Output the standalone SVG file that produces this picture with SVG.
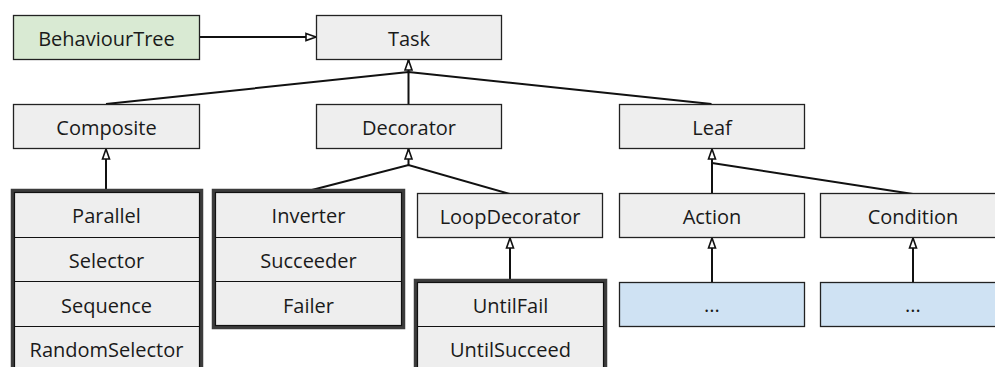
<svg xmlns="http://www.w3.org/2000/svg" width="995" height="367" viewBox="0 0 995 367">
  <style>
    .box { fill: #eeeeee; stroke: #222222; stroke-width: 1.3; }
    .green { fill: #d9ead3; }
    .blue { fill: #cfe2f3; }
    .frame { fill: none; stroke: #3c3c3c; stroke-width: 3.5; }
    .inner { fill: none; stroke: #111111; stroke-width: 1.2; }
    .sep { stroke: #111111; stroke-width: 1.2; }
    .lbl { font-family: "Open Sans", "Liberation Sans", sans-serif; font-size: 20px; fill: #1a1a1a; text-anchor: middle; }
    .edge { fill: none; stroke: #111111; stroke-width: 2; }
  </style>
  <defs>
    <marker id="tri" viewBox="0 0 12 10" refX="11" refY="5" markerWidth="12" markerHeight="10" markerUnits="userSpaceOnUse" orient="auto">
      <path d="M1,1.5 L11,5 L1,8.5 Z" fill="#ffffff" stroke="#111111" stroke-width="1.6"/>
    </marker>
  </defs>

  <!-- connectors -->
  <g id="connectors">
    <line class="edge" x1="200" y1="37" x2="316" y2="37" marker-end="url(#tri)"/>
    <!-- Task generalization tree -->
    <line class="edge" x1="408.5" y1="72" x2="408.5" y2="60" marker-end="url(#tri)"/>
    <polyline class="edge" points="106,104 408.5,72 711.5,104"/>
    <line class="edge" x1="408.5" y1="72" x2="408.5" y2="104"/>
    <!-- Composite -->
    <line class="edge" x1="106" y1="190" x2="106" y2="149" marker-end="url(#tri)"/>
    <!-- Decorator -->
    <line class="edge" x1="408.5" y1="165" x2="408.5" y2="149" marker-end="url(#tri)"/>
    <polyline class="edge" points="308,191 408.5,165 510,194"/>
    <!-- LoopDecorator -->
    <line class="edge" x1="510" y1="280" x2="510" y2="238" marker-end="url(#tri)"/>
    <!-- Leaf -->
    <line class="edge" x1="712" y1="193" x2="712" y2="149" marker-end="url(#tri)"/>
    <line class="edge" x1="712" y1="163" x2="913" y2="194"/>
    <!-- Action / Condition -->
    <line class="edge" x1="712" y1="282" x2="712" y2="238" marker-end="url(#tri)"/>
    <line class="edge" x1="913" y1="282" x2="913" y2="238" marker-end="url(#tri)"/>
  </g>

  <g id="behaviourtree">
    <rect class="box green" x="13.5" y="15.5" width="186" height="44"/>
    <text class="lbl" x="106.5" y="46">BehaviourTree</text>
  </g>
  <g id="task">
    <rect class="box" x="316.5" y="15.5" width="185" height="44"/>
    <text class="lbl" x="409" y="46">Task</text>
  </g>
  <g id="composite">
    <rect class="box" x="13.5" y="104.5" width="186" height="44"/>
    <text class="lbl" x="106.5" y="135">Composite</text>
  </g>
  <g id="decorator">
    <rect class="box" x="316.5" y="104.5" width="185" height="44"/>
    <text class="lbl" x="409" y="135">Decorator</text>
  </g>
  <g id="leaf">
    <rect class="box" x="619.5" y="104.5" width="185" height="44"/>
    <text class="lbl" x="712" y="135">Leaf</text>
  </g>

  <!-- composite subclasses -->
  <g id="composites">
    <rect x="13" y="191" width="188" height="190" fill="#eeeeee"/>
    <line class="sep" x1="14" y1="237.5" x2="200" y2="237.5"/>
    <line class="sep" x1="14" y1="281.5" x2="200" y2="281.5"/>
    <line class="sep" x1="14" y1="326.5" x2="200" y2="326.5"/>
    <rect class="frame" x="12.5" y="190.5" width="189" height="190"/>
    <rect class="inner" x="14.5" y="192.5" width="185" height="190"/>
    <text class="lbl" x="106.5" y="222.5">Parallel</text>
    <text class="lbl" x="106.5" y="268">Selector</text>
    <text class="lbl" x="106.5" y="312.5">Sequence</text>
    <text class="lbl" x="106.5" y="357">RandomSelector</text>
  </g>

  <!-- decorator subclasses -->
  <g id="decorators">
    <rect x="214" y="191" width="189" height="136" fill="#eeeeee"/>
    <line class="sep" x1="215" y1="237.5" x2="402" y2="237.5"/>
    <line class="sep" x1="215" y1="281.5" x2="402" y2="281.5"/>
    <rect class="frame" x="213.5" y="190.5" width="190" height="137"/>
    <rect class="inner" x="215.5" y="192.5" width="186" height="133"/>
    <text class="lbl" x="308.5" y="222.5">Inverter</text>
    <text class="lbl" x="308.5" y="268">Succeeder</text>
    <text class="lbl" x="308.5" y="312.5">Failer</text>
  </g>

  <g id="loopdecorator">
    <rect class="box" x="417.5" y="193.5" width="185" height="44"/>
    <text class="lbl" x="510" y="224">LoopDecorator</text>
  </g>

  <g id="loops">
    <rect x="416" y="281" width="189" height="100" fill="#eeeeee"/>
    <line class="sep" x1="417" y1="326.5" x2="604" y2="326.5"/>
    <rect class="frame" x="415.5" y="280.5" width="190" height="100"/>
    <rect class="inner" x="417.5" y="282.5" width="186" height="100"/>
    <text class="lbl" x="510.5" y="312.5">UntilFail</text>
    <text class="lbl" x="510.5" y="357">UntilSucceed</text>
  </g>

  <g id="action">
    <rect class="box" x="619.5" y="193.5" width="185" height="44"/>
    <text class="lbl" x="712" y="224">Action</text>
  </g>
  <g id="condition">
    <rect class="box" x="820.5" y="193.5" width="185" height="44"/>
    <text class="lbl" x="913" y="224">Condition</text>
  </g>
  <g id="action-impl">
    <rect class="box blue" x="619.5" y="282.5" width="185" height="44"/>
    <text class="lbl" x="712" y="312">...</text>
  </g>
  <g id="condition-impl">
    <rect class="box blue" x="820.5" y="282.5" width="185" height="44"/>
    <text class="lbl" x="913" y="312">...</text>
  </g>
</svg>
